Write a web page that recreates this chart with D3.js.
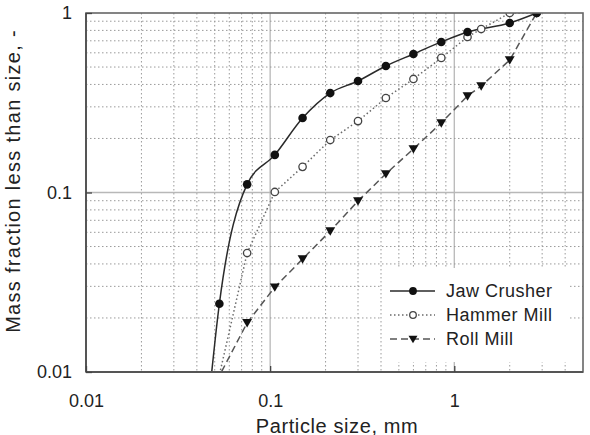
<!DOCTYPE html>
<html>
<head>
<meta charset="utf-8">
<script src="https://cdn.jsdelivr.net/npm/d3@7/dist/d3.min.js"></script>
<style>
  html, body { margin: 0; padding: 0; background: #fff; }
  svg { display: block; font-family: "Liberation Sans", Arial, sans-serif; }
</style>
</head>
<body>
<svg id="chart" width="590" height="435"></svg>
<script>
// ---- data ----
const seriesNames = ["Jaw Crusher", "Hammer Mill", "Roll Mill"];
const jawSize  = [0.045, 0.053, 0.075, 0.106, 0.15, 0.212, 0.3, 0.425, 0.6, 0.85, 1.18, 2.0, 2.8];
const jawFrac  = [0.005, 0.024, 0.111, 0.162, 0.26, 0.358, 0.418, 0.507, 0.591, 0.69, 0.784, 0.88, 1.0];
const hamSize  = [0.045, 0.075, 0.106, 0.15, 0.212, 0.3, 0.425, 0.6, 0.85, 1.18, 1.4, 2.0, 2.8];
const hamFrac  = [0.0046, 0.046, 0.1007, 0.139, 0.196, 0.25, 0.336, 0.429, 0.562, 0.735, 0.814, 1.0, 1.0];
const rollSize = [0.045, 0.075, 0.106, 0.15, 0.212, 0.3, 0.425, 0.6, 0.85, 1.18, 1.4, 2.0, 2.8];
const rollFrac = [0.0069, 0.0188, 0.0297, 0.0426, 0.061, 0.0897, 0.127, 0.175, 0.244, 0.345, 0.392, 0.547, 1.0];
const xTickLabels = ["0.01", "0.1", "1"];
const yTickLabels = ["0.01", "0.1", "1"];
const xDomain = [0.01, 5];
const yDomain = [0.01, 1];

// ---- layout ----
const svg = d3.select("#chart");
const L = 86, R = 583, T = 13, B = 372;
const x = d3.scaleLog().domain(xDomain).range([L, R]);
const y = d3.scaleLog().domain(yDomain).range([B, T]);

svg.append("defs").append("clipPath").attr("id", "plotclip")
  .append("rect").attr("x", L).attr("y", T).attr("width", R - L).attr("height", B - T);

// ---- grid ----
const grid = svg.append("g");
const xt = x.ticks(20).filter(v => v > xDomain[0] * 1.0001 && v < xDomain[1] * 0.9999);
const yt = y.ticks(20).filter(v => v > yDomain[0] * 1.0001 && v < yDomain[1] * 0.9999);
const isMajor = v => Math.abs(Math.log10(v) - Math.round(Math.log10(v))) < 1e-6;

grid.selectAll("line.xminor").data(xt).join("line")
  .attr("x1", d => x(d)).attr("x2", d => x(d)).attr("y1", T).attr("y2", B)
  .attr("stroke", d => isMajor(d) ? "#b8b8b8" : "#9a9a9a")
  .attr("stroke-width", d => isMajor(d) ? 1.3 : 1)
  .attr("stroke-dasharray", d => isMajor(d) ? null : "1.5,2.5");
grid.selectAll("line.yminor").data(yt).join("line")
  .attr("y1", d => y(d)).attr("y2", d => y(d)).attr("x1", L).attr("x2", R)
  .attr("stroke", d => isMajor(d) ? "#b8b8b8" : "#9a9a9a")
  .attr("stroke-width", d => isMajor(d) ? 1.3 : 1)
  .attr("stroke-dasharray", d => isMajor(d) ? null : "1.5,2.5");

// ---- series ----
const series = [
  { name: seriesNames[0], xs: jawSize, ys: jawFrac, stroke: "#2a2a2a", dash: null, marker: "dot", curve: d3.curveMonotoneX },
  { name: seriesNames[1], xs: hamSize, ys: hamFrac, stroke: "#6a6a6a", dash: "1.5,2.5", marker: "open", curve: d3.curveLinear },
  { name: seriesNames[2], xs: rollSize, ys: rollFrac, stroke: "#555", dash: "7,4", marker: "tri", curve: d3.curveLinear }
];

const plot = svg.append("g").attr("clip-path", "url(#plotclip)");

function drawMarker(g, type, cx, cy, r) {
  if (type === "dot") {
    g.append("circle").attr("cx", cx).attr("cy", cy).attr("r", r).attr("fill", "#111");
  } else if (type === "open") {
    g.append("circle").attr("cx", cx).attr("cy", cy).attr("r", r - 0.6)
      .attr("fill", "#fff").attr("stroke", "#444").attr("stroke-width", 1.3);
  } else {
    const s = r * 1.15;
    g.append("path")
      .attr("d", `M${cx - s},${cy - s * 0.75}L${cx + s},${cy - s * 0.75}L${cx},${cy + s * 0.95}Z`)
      .attr("fill", "#111");
  }
}

series.forEach(s => {
  const pts = s.xs.map((v, i) => [v, s.ys[i]]);
  plot.append("path")
    .attr("d", d3.line().x(d => x(d[0])).y(d => y(d[1])).curve(s.curve)(pts))
    .attr("fill", "none").attr("stroke", s.stroke).attr("stroke-width", 1.5)
    .attr("stroke-dasharray", s.dash);
});
// markers on top (roll first, hammer, jaw last)
[series[2], series[1], series[0]].forEach(s => {
  const g = plot.append("g");
  s.xs.forEach((v, i) => drawMarker(g, s.marker, x(v), y(s.ys[i]), 4.3));
});

// ---- legend ----
const lg = svg.append("g");
lg.append("rect").attr("x", 382).attr("y", 268).attr("width", 186).attr("height", 94).attr("fill", "#fff");
series.forEach((s, i) => {
  const ly = 291 + i * 24;
  lg.append("line").attr("x1", 390).attr("x2", 435).attr("y1", ly).attr("y2", ly)
    .attr("stroke", s.stroke).attr("stroke-width", 1.5).attr("stroke-dasharray", s.dash);
  drawMarker(lg, s.marker, 413, ly, 3.9);
  lg.append("text").attr("x", 446).attr("y", ly).attr("dy", "0.35em")
    .attr("font-size", 18).attr("letter-spacing", "0.5px").attr("fill", "#222").text(s.name);
});

// ---- frame & major ticks ----
svg.append("rect").attr("x", L).attr("y", T).attr("width", R - L).attr("height", B - T)
  .attr("fill", "none").attr("stroke", "#666").attr("stroke-width", 1.6);
svg.append("line").attr("x1", L).attr("x2", R).attr("y1", B).attr("y2", B)
  .attr("stroke", "#555").attr("stroke-width", 2.2);
svg.append("line").attr("x1", L).attr("x2", L).attr("y1", T).attr("y2", B)
  .attr("stroke", "#555").attr("stroke-width", 2);

// ---- axes (labels) ----
const xAxis = d3.axisBottom(x).tickValues(xTickLabels.map(Number))
  .tickFormat((d, i) => xTickLabels[i]).tickSize(-6).tickPadding(22);
const gx = svg.append("g").attr("transform", `translate(0,${B})`).call(xAxis);
gx.select(".domain").remove();
gx.selectAll(".tick line").attr("stroke", "#444").attr("stroke-width", 1.3);
gx.selectAll(".tick text").attr("font-size", 18).attr("fill", "#222")
  .attr("font-family", "Liberation Sans, Arial, sans-serif");

const yAxis = d3.axisLeft(y).tickValues(yTickLabels.map(Number))
  .tickFormat((d, i) => yTickLabels[i]).tickSize(-6).tickPadding(14);
const gy = svg.append("g").attr("transform", `translate(${L},0)`).call(yAxis);
gy.select(".domain").remove();
gy.selectAll(".tick line").attr("stroke", "#444").attr("stroke-width", 1.3);
gy.selectAll(".tick text").attr("font-size", 18).attr("fill", "#222")
  .attr("font-family", "Liberation Sans, Arial, sans-serif");

// ---- titles ----
svg.append("text").attr("x", 337).attr("y", 433).attr("text-anchor", "middle")
  .attr("font-size", 20).attr("letter-spacing", "0.6px").attr("fill", "#222")
  .text("Particle size, mm");
svg.append("text").attr("transform", "translate(20,181) rotate(-90)")
  .attr("text-anchor", "middle").attr("font-size", 20).attr("letter-spacing", "1.3px")
  .attr("fill", "#222").text("Mass fraction less than size, -");
</script>
</body>
</html>
